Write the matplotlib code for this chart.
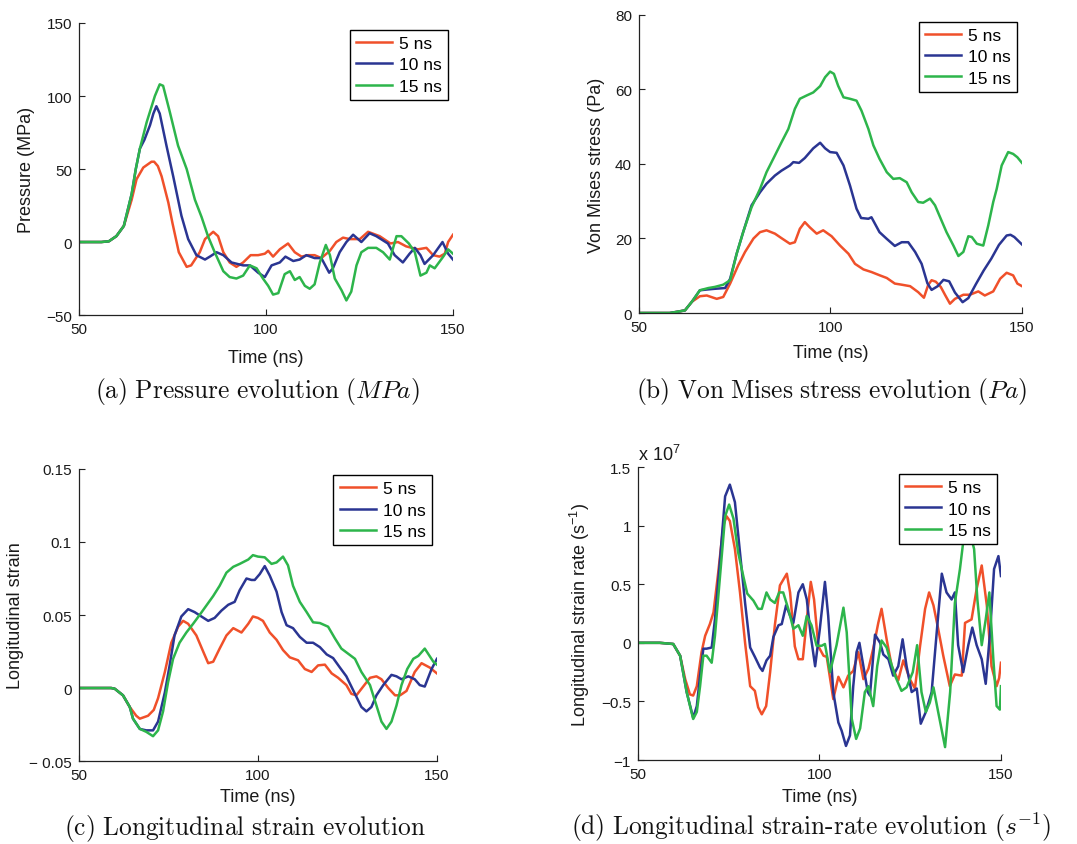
import matplotlib
matplotlib.use("Agg")
import matplotlib.pyplot as plt

plt.rcParams['font.family'] = ['Liberation Sans', 'DejaVu Sans']
plt.rcParams['mathtext.fontset'] = 'custom'
plt.rcParams['mathtext.rm'] = 'Liberation Sans'
plt.rcParams['mathtext.it'] = 'Liberation Sans:italic'

# ---------------- data ----------------
series_labels = ["5 ns", "10 ns", "15 ns"]
series_colors = ["#f0502a", "#2a3592", "#2db54b"]

# (a) Pressure (MPa)
p_t5 = [50, 56, 58, 60, 62, 64.1, 65.4, 67.2, 69.4, 70.1, 71.1, 72.1, 73.9, 75, 76.7, 78.8, 80, 82.3, 83.7, 85.9,
        87.2, 88.6, 90.3, 92.1, 93.9, 95.9, 97.9, 99.7, 100.6, 101.9, 103.7, 105.9, 107.7, 109.5, 111.3, 113, 114.8,
        117.1, 118.8, 120.6, 122.4, 125.1, 127.3, 130.4, 133.3, 135.3, 137.5, 140.6, 142.9, 144.7, 146.4, 147.8, 148.7, 150]
p_v5 = [0, 0, 0.5, 4, 11, 29, 43, 51, 55, 55, 52, 45, 27, 13, -7, -17, -16, -7, 2, 7,
        4, -7, -14, -17, -14, -9, -9, -8, -6, -10, -5, -1, -7, -10, -9, -9, -11,
        -6, 0, 3, 2, 2, 7, 4, -1, 0, -3, -5, -4, -9, -10, -8, 0, 5]
p_t10 = [50, 56, 58, 60, 62, 64.1, 65.2, 66.3, 67.5, 69, 69.9, 70.7, 71.6, 73.4, 75.2, 77.4, 79.2, 81.4, 83.7, 85,
         86.8, 88.6, 90.8, 93.9, 95.7, 97.9, 99.7, 101.5, 103.7, 105.2, 107.3, 109, 110.8, 113, 114.8, 116.9, 117.9,
         119.7, 121.5, 123.3, 125.5, 127.7, 129.5, 132.6, 134.4, 136.6, 138.4, 139.8, 141.3, 142.4, 144.7, 147.2, 148.7, 150]
p_v10 = [0, 0, 0.5, 4, 11, 33, 50, 64, 70, 80, 88, 93, 88, 66, 45, 18, 2, -9, -12, -10,
         -7, -9, -14, -16, -16, -21, -24, -16, -14, -10, -13, -12, -9, -11, -11, -21, -18,
         -7, 0, 5, 0, 6, 4, -1, -9, -14, -8, -4, -9, -15, -9, 0, -8, -12]
p_t15 = [50, 56, 58, 60, 62, 64.1, 65.2, 66.3, 68.1, 70.3, 71.6, 72.5, 74.3, 76.5, 78.8, 81, 82.8, 84.5, 86.3, 88.6,
         90.3, 92.1, 93.9, 95.7, 97.5, 99.2, 100.6, 101.9, 103.3, 105, 106.4, 107.7, 109, 110.4, 111.7, 113, 114.4,
         116, 117.1, 118.4, 120.2, 121.5, 122.8, 124.2, 125.5, 127.3, 129.5, 131.3, 133.1, 134.9, 136.2, 138.2, 139.8,
         141.3, 142.9, 143.8, 145.1, 147.4, 148.7, 150]
p_v15 = [0, 0, 0.5, 4, 11, 33, 50, 64, 82, 100, 108, 107, 89, 66, 50, 29, 17, 4, -7, -20,
         -24, -25, -23, -16, -18, -25, -30, -36, -35, -22, -20, -26, -24, -30, -32, -29, -14,
         -2, -9, -25, -33, -40, -34, -16, -7, -4, -4, -7, -12, 4, 4, -1, -7,
         -23, -21, -16, -18, -10, -5, -8]

# (b) Von Mises stress (Pa)
s_t5 = [50, 58, 59.8, 62, 63.8, 65.9, 67.7, 70.3, 72, 73.8, 75.9, 77.7, 79.9, 81.6, 83.3, 85.5, 87.2, 89.4, 90.7, 92,
        93.3, 94.6, 96.4, 98.1, 100.3, 102.5, 104.7, 106.4, 108.6, 110.7, 112.9, 114.7, 116.8, 118.6, 120.8,
        122.9, 124.4, 125.5, 126.4, 127.5, 128.8, 130, 131.2, 132.5, 134.7, 136.4, 138.6, 140.3, 142.5, 144.3,
        146, 147.7, 148.8, 150]
s_v5 = [0, 0, 0.3, 0.7, 3, 4.5, 4.7, 3.8, 4.3, 7.9, 12.8, 16.4, 20, 21.7, 22.2, 21.3, 20.1, 18.6, 19, 22.6,
        24.4, 23, 21.3, 22.2, 20.6, 18.1, 15.9, 13.2, 11.7, 11, 10.1, 9.4, 7.9, 7.6, 7.2,
        5.6, 4.1, 7.5, 8.8, 8.4, 7.0, 4.7, 2.5, 3.8, 4.9, 4.9, 5.8, 4.7, 5.8, 9.2,
        10.8, 10.1, 7.9, 7.2]
s_t10 = [50, 58, 59.8, 62, 63.8, 65.9, 67.7, 69.8, 72.5, 73.8, 75.5, 77.2, 79.4, 81.6, 83.3, 85.5, 87.2, 89.4, 90.3,
         91.8, 93.3, 95.5, 97.3, 98.6, 99.9, 101.6, 103.4, 105.1, 106.8, 108, 109.9, 110.7, 112.8, 114.7, 116.8,
         118.6, 120.3, 122.1, 123.8, 125.3, 126.4, 128, 129.5, 131, 132.5, 134.5, 136, 138, 140, 142, 144, 146,
         147, 148, 150]
s_v10 = [0, 0, 0.3, 0.7, 3, 6.1, 6.3, 6.5, 6.7, 9.2, 15.9, 21.7, 28.9, 32.4, 34.7, 36.9, 38.2, 39.6, 40.5,
         40.3, 41.6, 44.2, 45.7, 44.2, 43.2, 43, 39.6, 34.2, 28, 25.5, 25.3, 25.7, 21.7, 19.9, 18,
         19, 19, 16.4, 13.2, 8.0, 6.2, 7.2, 8.9, 8.5, 5.5, 2.9, 4.0, 7.8, 11.4, 14.6, 18.3, 20.8,
         21.0, 20.4, 18.4]
s_t15 = [50, 58, 59.8, 62, 63.8, 65.9, 68.1, 69.8, 72, 73.8, 75.5, 77.2, 79.4, 81.6, 83.3, 85.5, 87.2, 89, 90.7, 92,
         93.8, 95.5, 97.3, 98.6, 99.9, 100.9, 102, 103.4, 105.1, 106.8, 108.1, 109.9, 111.2, 112.8, 114.7,
         116.4, 118.1, 119.9, 121.2, 122.9, 124.2, 126, 127.3, 129, 130.3, 132.1, 133.4, 134.7, 136, 136.9,
         138.2, 139.9, 141.2, 142.5, 143.4, 144.7, 146.4, 147.7, 148.8, 150]
s_v15 = [0, 0, 0.3, 0.7, 3, 6.1, 6.7, 7, 7.6, 8.8, 15.9, 21.7, 28.4, 33.3, 37.8, 42.3, 45.8, 49.4, 54.8, 57.5,
         58.4, 59.2, 60.9, 63.3, 64.8, 64.2, 61, 57.9, 57.5, 57, 54.3, 49.4, 45, 41.4, 37.8,
         36, 36.2, 35.1, 32.4, 29.8, 29.6, 30.7, 28.9, 24.8, 21.7, 18.1, 15.3, 16.4, 20.6, 20.4,
         18.6, 18.1, 23.5, 29.8, 33.3, 39.6, 43.2, 42.7, 41.8, 40.3]

# (c) Longitudinal strain
e_t5 = [50, 59, 60, 62.3, 64.2, 66, 67, 69.3, 70.9, 72.1, 74, 75.8, 77.7, 79.1, 80.5, 82.8, 84.7, 86.1, 87.5, 89.3,
        91.2, 93.1, 95.4, 97.3, 98.6, 100, 101.4, 103.3, 105.2, 107, 108.9, 111.2, 113.1, 115, 116.8, 118.7,
        120.6, 122.4, 124.7, 126.1, 127.5, 129.4, 131.3, 133.1, 134.5, 136.4, 138.3, 139.7, 141.5, 143.8,
        145.7, 148, 150]
e_v5 = [0, 0, -0.0005, -0.005, -0.013, -0.019, -0.021, -0.019, -0.015, -0.007, 0.011, 0.031, 0.042, 0.046,
        0.044, 0.036, 0.025, 0.017, 0.018, 0.027, 0.036, 0.041, 0.038, 0.044, 0.049, 0.048, 0.046, 0.038,
        0.033, 0.026, 0.021, 0.019, 0.013, 0.011, 0.0155, 0.016, 0.010, 0.007, 0.002, -0.004, -0.005, 0.001,
        0.007, 0.008, 0.006, 0, -0.005, -0.005, -0.002, 0.011, 0.017, 0.014, 0.010]
e_t10 = [50, 59, 60, 62.3, 64.2, 65.1, 67, 68.8, 70.7, 72.1, 74, 75.3, 76.7, 78.6, 80.5, 82.3, 84.2, 86.1, 87.9,
         89.8, 91.7, 93.5, 94.9, 96.8, 98.2, 99.1, 100.5, 101.9, 103.3, 105.2, 106.6, 108, 109.8, 111.7, 113.6,
         115.4, 117.3, 119.2, 121, 122.9, 124.7, 126.6, 128.9, 130.3, 131.7, 133.1, 135, 137.3, 138.7, 140.1,
         142, 143.8, 145.2, 146.6, 148.5, 150]
e_v10 = [0, 0, -0.0005, -0.005, -0.013, -0.021, -0.028, -0.029, -0.029, -0.023, -0.003, 0.015, 0.036, 0.049,
         0.054, 0.052, 0.049, 0.046, 0.048, 0.053, 0.057, 0.059, 0.067, 0.075, 0.074, 0.074, 0.078, 0.0835,
         0.077, 0.066, 0.052, 0.043, 0.041, 0.035, 0.031, 0.031, 0.028, 0.023, 0.0205, 0.014, 0.008, -0.0015,
         -0.013, -0.016, -0.013, -0.005, 0.002, 0.009, 0.008, 0.006, 0.008, 0.006, 0.002, 0.001, 0.013, 0.020]
e_t15 = [50, 59, 60, 62.3, 64.2, 65.1, 67, 68.8, 70.7, 72.1, 73.5, 74.9, 76.3, 78.1, 80, 81.9, 83.7, 85.6, 87.5,
         89.3, 91.2, 93.1, 94.9, 97.3, 98.6, 100, 101.9, 103.8, 105.2, 107, 108.4, 109.8, 111.7, 113.6, 115.4,
         117.3, 119.6, 121.5, 123.3, 125.2, 127.1, 128.9, 131.3, 133.1, 134.5, 135.9, 137.3, 138.7, 140.1,
         141.7, 143.4, 144.8, 146.6, 149, 150]
e_v15 = [0, 0, -0.0005, -0.005, -0.013, -0.021, -0.028, -0.030, -0.033, -0.029, -0.016, 0.004, 0.020, 0.031,
         0.038, 0.044, 0.050, 0.0565, 0.063, 0.070, 0.079, 0.083, 0.085, 0.088, 0.091, 0.090, 0.0895, 0.085,
         0.086, 0.090, 0.084, 0.070, 0.059, 0.052, 0.045, 0.0445, 0.042, 0.034, 0.027, 0.0235, 0.020, 0.011,
         0.002, -0.012, -0.023, -0.028, -0.023, -0.012, 0.002, 0.013, 0.020, 0.022, 0.027, 0.018, 0.016]

# (d) Longitudinal strain rate (units of 1e7 s^-1)
r_t5 = [50, 56, 59.7, 61.6, 63, 64.3, 65.2, 66.2, 67.5, 68.5, 69.8, 70.8, 72.1, 73.5, 74.4, 75.3, 76.7, 78.1,
        79.5, 80.9, 82.2, 83.1, 84.1, 85.3, 86.4, 87.7, 89.1, 91, 91.9, 93.2, 94.2, 95.4, 96.5, 97.6, 98.5,
        99.7, 101.1, 102, 103.8, 105.2, 106.6, 107.9, 109.3, 110.7, 112.1, 113.5, 114.8, 116.2, 117.1, 118.5,
        119.9, 121.7, 123.1, 124.9, 126.3, 127.7, 129.1, 130.2, 131.4, 132.7, 134.1, 135.9, 137.3, 139.2,
        140.1, 141.9, 143.3, 144.7, 146.1, 147.4, 148.8, 149.5, 150]
r_v5 = [0, 0, -0.01, -0.11, -0.31, -0.44, -0.45, -0.37, -0.08, 0.06, 0.16, 0.26, 0.6, 1.0, 1.08, 1.04, 0.80,
        0.43, 0.0, -0.37, -0.41, -0.55, -0.61, -0.54, -0.25, 0.15, 0.49, 0.59, 0.43, -0.03, -0.14, -0.14, 0.2,
        0.52, 0.37, -0.03, -0.11, -0.12, -0.48, -0.29, -0.38, -0.28, -0.24, -0.08, -0.31, -0.22, -0.05, 0.17,
        0.29, 0.03, -0.20, -0.32, -0.15, -0.31, -0.39, -0.03, 0.29, 0.43, 0.32, 0.12, -0.11, -0.37, -0.27,
        -0.28, 0.17, 0.20, 0.46, 0.66, 0.32, -0.20, -0.37, -0.30, -0.17]
r_t10 = [50, 56, 59.7, 61.6, 63.4, 65.2, 66.2, 67.1, 68, 68.9, 70.3, 71.2, 72.6, 74, 75.3, 76.7, 78.1, 79.5,
         80.9, 82.2, 83.6, 84.3, 85.4, 86.4, 87.3, 88.7, 89.6, 90.8, 91.9, 92.8, 94.2, 95.4, 96.5, 97.6, 98.8,
         100.1, 101.5, 102.4, 103.8, 105.2, 106.1, 107.3, 108.4, 109.3, 110.2, 111, 112.1, 113.3, 113.9,
         115.3, 116.7, 117.6, 119, 120.3, 121.7, 122.9, 124, 125.4, 126.8, 127.9, 129.3, 130.9, 132.3, 133.7,
         135, 136.4, 137.3, 138.2, 139.6, 141, 142.1, 143.3, 144.7, 145.8, 147, 148.1, 149.3, 150]
r_v10 = [0, 0, -0.01, -0.11, -0.42, -0.64, -0.54, -0.28, -0.05, -0.05, -0.04, 0.2, 0.71, 1.25, 1.35, 1.20,
         0.77, 0.34, -0.04, -0.12, -0.21, -0.24, -0.15, -0.11, 0.05, 0.15, 0.16, 0.32, 0.23, 0.17, 0.43, 0.50,
         0.37, 0.06, -0.20, 0.12, 0.52, 0.23, -0.42, -0.68, -0.75, -0.88, -0.79, -0.37, -0.08, 0.0, -0.20,
         -0.42, -0.45, 0.07, 0.0, -0.10, -0.14, -0.28, -0.20, 0.03, -0.20, -0.42, -0.39, -0.69, -0.59, -0.42,
         0.09, 0.59, 0.43, 0.37, 0.43, -0.02, -0.25, -0.02, 0.13, -0.02, -0.14, -0.35, 0.09, 0.63, 0.74, 0.57]
r_t15 = [50, 56, 59.7, 61.6, 63.4, 65.2, 66.2, 67.1, 68, 68.9, 70.3, 71.2, 72.6, 74, 75.1, 76.3, 77.6, 79,
         80.1, 81.8, 83.1, 84.1, 85.4, 86.4, 87.7, 88.9, 90, 91.4, 92.8, 94.2, 95.4, 96.5, 97.8, 99.2, 100.6,
         101.5, 102.9, 104.7, 106.6, 107.5, 108.9, 110.1, 111.2, 112.5, 113.5, 114.8, 115.9, 117.1, 118.5,
         119.4, 120.8, 122.6, 124, 125.7, 126.9, 128.1, 129.3, 130.4, 131.4, 132.7, 134.6, 136, 137.3, 138.7,
         139.6, 141, 142.6, 143.5, 144.7, 145.8, 146.8, 147.9, 148.8, 149.7, 150]
r_v15 = [0, 0, -0.01, -0.11, -0.42, -0.65, -0.59, -0.37, -0.11, -0.11, -0.17, 0.06, 0.57, 1.08, 1.18, 1.06,
         0.77, 0.57, 0.42, 0.36, 0.29, 0.29, 0.43, 0.37, 0.34, 0.43, 0.43, 0.29, 0.12, 0.15, 0.06, 0.23, 0.15,
         -0.025, -0.025, -0.01, -0.25, -0.02, 0.30, 0.09, -0.65, -0.82, -0.73, -0.42, -0.37, -0.54, -0.20,
         0.02, -0.04, -0.14, -0.28, -0.41, -0.38, -0.25, -0.02, -0.42, -0.59, -0.51, -0.38, -0.59, -0.89,
         -0.42, 0.34, 0.63, 0.86, 1.0, 0.80, 0.37, -0.02, 0.20, 0.43, -0.14, -0.54, -0.57, -0.37]

x_ticks = [50, 100, 150]
a_yticks = [-50, 0, 50, 100, 150]
a_ylabels = ["\u221250", "0", "50", "100", "150"]
b_yticks = [0, 20, 40, 60, 80]
c_yticks = [-0.05, 0, 0.05, 0.1, 0.15]
c_ylabels = ["\u2212 0.05", "0", "0.05", "0.1", "0.15"]
d_yticks = [-1, -0.5, 0, 0.5, 1, 1.5]
d_ylabels = ["\u22121", "\u22120.5", "0", "0.5", "1", "1.5"]

# ---------------- figure ----------------
fig = plt.figure(figsize=(10.77, 8.45), dpi=100)
FS_TICK = 11
FS_LAB = 13
FS_LEG = 12.5
spine_col = "#222222"

def style(ax, xlim, ylim, yticks, ylabels, ylabel, ylab_x, xlab_y, leg_anchor):
    ax.set_xlim(*xlim)
    ax.set_ylim(*ylim)
    ax.set_xticks(x_ticks)
    ax.set_xticklabels([str(v) for v in x_ticks])
    ax.set_yticks(yticks)
    ax.set_yticklabels(ylabels)
    for s in ("top", "right"):
        ax.spines[s].set_visible(False)
    for s in ("left", "bottom"):
        ax.spines[s].set_color(spine_col)
        ax.spines[s].set_linewidth(0.9)
    ax.tick_params(direction="in", length=4, width=0.8, colors=spine_col, labelsize=FS_TICK,
                   labelcolor="#1a1a1a", pad=5)
    ax.set_xlabel("Time (ns)", fontsize=FS_LAB, color="#1a1a1a")
    ax.xaxis.label.set_va("center")
    ax.xaxis.set_label_coords(0.5, xlab_y)
    ax.set_ylabel(ylabel, fontsize=FS_LAB, color="#1a1a1a")
    ax.yaxis.label.set_va("center")
    ax.yaxis.set_label_coords(ylab_x, 0.5)
    leg = ax.legend(loc="upper right", bbox_to_anchor=leg_anchor, borderaxespad=0,
                    fontsize=FS_LEG, fancybox=False, framealpha=1, edgecolor="black",
                    handlelength=2.1, handletextpad=0.4, labelspacing=0.35, borderpad=0.35)
    leg.get_frame().set_linewidth(1.0)

ax_a = fig.add_axes([0.0733, 0.6260, 0.3473, 0.3456])
ax_b = fig.add_axes([0.5933, 0.6284, 0.3556, 0.3527])
ax_c = fig.add_axes([0.0733, 0.0982, 0.3324, 0.3456])
ax_d = fig.add_axes([0.5924, 0.0994, 0.3370, 0.3467])

LW = 1.8
for t, v, lab, col in zip([p_t5, p_t10, p_t15], [p_v5, p_v10, p_v15], series_labels, series_colors):
    ax_a.plot(t, v, color=col, lw=LW, label=lab)
for t, v, lab, col in zip([s_t5, s_t10, s_t15], [s_v5, s_v10, s_v15], series_labels, series_colors):
    ax_b.plot(t, v, color=col, lw=LW, label=lab)
for t, v, lab, col in zip([e_t5, e_t10, e_t15], [e_v5, e_v10, e_v15], series_labels, series_colors):
    ax_c.plot(t, v, color=col, lw=LW, label=lab)
for t, v, lab, col in zip([r_t5, r_t10, r_t15], [r_v5, r_v10, r_v15], series_labels, series_colors):
    ax_d.plot(t, v, color=col, lw=LW, label=lab)

style(ax_a, (50, 150), (-50, 150), a_yticks, a_ylabels, "Pressure (MPa)", -0.139, -0.144, (0.987, 0.976))
style(ax_b, (50, 150), (0, 80), b_yticks, [str(v) for v in b_yticks], "Von Mises stress (Pa)", -0.112, -0.131,
      (0.987, 0.977))
style(ax_c, (50, 150), (-0.05, 0.15), c_yticks, c_ylabels, "Longitudinal strain", -0.176, -0.12, (0.986, 0.979))
style(ax_d, (50, 150), (-1, 1.5), d_yticks, d_ylabels, r"Longitudinal strain rate (s$^{-1}$)", -0.16, -0.123,
      (0.989, 0.976))

ax_d.text(0.0, 1.01, r"x 10$^{7}$", transform=ax_d.transAxes, fontsize=FS_LAB, color="#1a1a1a",
          ha="left", va="bottom")

cap_kw = dict(fontsize=18.3, ha="center", va="center", math_fontfamily="cm", color="#111111")
fig.text(0.2386, 0.5361, r"$\mathrm{(a)\ Pressure\ evolution\ (}MPa\mathrm{)}$", **cap_kw)
fig.text(0.7716, 0.5361, r"$\mathrm{(b)\ Von\ Mises\ stress\ evolution\ (}Pa\mathrm{)}$", **cap_kw)
fig.text(0.2275, 0.019, r"$\mathrm{(c)\ Longitudinal\ strain\ evolution}$", **cap_kw)
fig.text(0.753, 0.021, r"$\mathrm{(d)\ Longitudinal\ strain\text{-}rate\ evolution\ (}s^{-1}\mathrm{)}$", **cap_kw)

fig.savefig("out.png", dpi=100)
